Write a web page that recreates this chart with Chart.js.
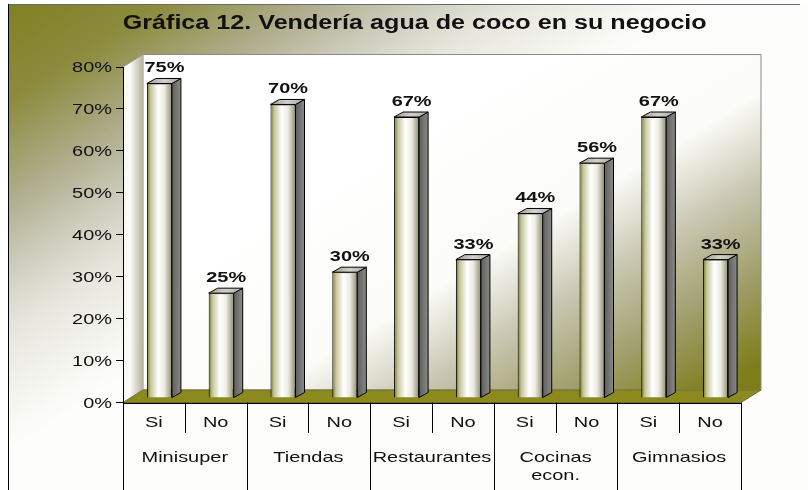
<!DOCTYPE html>
<html lang="es">
<head>
<meta charset="UTF-8">
<title>Gráfica 12. Vendería agua de coco en su negocio</title>
<script src="https://cdn.jsdelivr.net/npm/chart.js@4"></script>
<style>
  html, body { margin: 0; padding: 0; background: #fff; }
  #wrap { width: 808px; height: 490px; }
</style>
</head>
<body>
<div id="wrap"><canvas id="chart" width="808" height="490"></canvas></div>
<script>
// data
const titleText = 'Gráfica 12. Vendería agua de coco en su negocio';
const groups = [['Minisuper'], ['Tiendas'], ['Restaurantes'], ['Cocinas', 'econ.'], ['Gimnasios']];
const answers = ['Si', 'No'];
const siValues = [75, 70, 67, 44, 67];
const noValues = [25, 30, 33, 56, 33];
const yMax = 80;
const yStep = 10;

const labels = [];
const values = [];
groups.forEach((g, i) => {
  labels.push(answers[0]); values.push(siValues[i]);
  labels.push(answers[1]); values.push(noValues[i]);
});

// fake 3d depth
const WALL_DX = 20, WALL_DY = 12.5;
const SHIFT_X = 5.5, SHIFT_Y = 4.5;
const BAR_DX = 9, BAR_DY = 5;
const BAR_SHARE = 0.405;
const FONT = '"Liberation Sans", Arial, sans-serif';
const SX = 1.33; // the original picture is stretched sideways

function stretchText(ctx, text, x, y, font, align, sx) {
  sx = sx || SX;
  ctx.save();
  ctx.font = font;
  const w = ctx.measureText(text).width * sx;
  let left = x;
  if (align === 'center') left = x - w / 2;
  if (align === 'right') left = x - w;
  ctx.translate(left, y);
  ctx.scale(sx, 1);
  ctx.textAlign = 'left';
  ctx.textBaseline = 'alphabetic';
  ctx.fillStyle = '#111';
  ctx.fillText(text, 0, 0);
  ctx.restore();
}

function poly(ctx, pts, fill, stroke) {
  ctx.beginPath();
  ctx.moveTo(pts[0][0], pts[0][1]);
  for (let i = 1; i < pts.length; i++) ctx.lineTo(pts[i][0], pts[i][1]);
  ctx.closePath();
  if (fill) { ctx.fillStyle = fill; ctx.fill(); }
  if (stroke) { ctx.strokeStyle = stroke; ctx.lineWidth = 1; ctx.stroke(); }
}

function barFill(c) {
  if (c.type !== 'data') return '#ddd';
  const xs = c.chart.scales.x;
  if (!xs) return '#ddd';
  const cx = xs.getPixelForValue(c.dataIndex);
  const w = (xs.width / labels.length) * BAR_SHARE;
  if (!isFinite(cx) || !isFinite(w) || w <= 0) return '#ddd';
  const g = c.chart.ctx.createLinearGradient(cx - w / 2, 0, cx + w / 2, 0);
  g.addColorStop(0, '#77772a');
  g.addColorStop(0.15, '#c6c59c');
  g.addColorStop(0.45, '#ffffff');
  g.addColorStop(0.7, '#ecebe2');
  g.addColorStop(1, '#8e8d72');
  return g;
}

const depthPlugin = {
  id: 'depth',
  beforeDraw(chart) {
    const ctx = chart.ctx;
    const a = chart.chartArea;
    const L = a.left, R = a.right, T = a.top, B = a.bottom;
    ctx.save();
    // outer background
    const bg = ctx.createLinearGradient(8, 4, 213, 322);
    bg.addColorStop(0, '#808022');
    bg.addColorStop(0.22, '#8c8b3e');
    bg.addColorStop(0.44, '#b0ae8e');
    bg.addColorStop(0.6, '#cfcfc0');
    bg.addColorStop(0.73, '#e6e6dd');
    bg.addColorStop(0.89, '#f5f5f0');
    bg.addColorStop(1, '#fdfdfb');
    ctx.fillStyle = bg;
    ctx.fillRect(8, 4, 800, 486);

    // back wall
    const wall = ctx.createLinearGradient(450, 100, 650, 430);
    wall.addColorStop(0, '#ffffff');
    wall.addColorStop(0.4, '#fbfbf8');
    wall.addColorStop(0.6, '#c8c6b0');
    wall.addColorStop(0.8, '#a09e6a');
    wall.addColorStop(1, '#7e7d1c');
    poly(ctx, [[L + WALL_DX, T - WALL_DY], [R + WALL_DX, T - WALL_DY], [R + WALL_DX, B - WALL_DY], [L + WALL_DX, B - WALL_DY]], wall, '#8a8a8a');

    // side wall
    const side = ctx.createLinearGradient(L, 0, L + WALL_DX, 0);
    side.addColorStop(0, '#f6f6f2');
    side.addColorStop(0.35, '#fbfbf8');
    side.addColorStop(1, '#b4b29c');
    poly(ctx, [[L, T], [L + WALL_DX, T - WALL_DY], [L + WALL_DX, B - WALL_DY], [L, B]], side, null);
    ctx.strokeStyle = '#9a9a9a';
    ctx.beginPath();
    ctx.moveTo(L, T); ctx.lineTo(L + WALL_DX, T - WALL_DY);
    ctx.stroke();

    // floor
    poly(ctx, [[L, B], [L + WALL_DX, B - WALL_DY], [R + WALL_DX, B - WALL_DY], [R, B]], '#8c8a1e', '#6f6e30');
    ctx.restore();
  },
  beforeDatasetsDraw(chart) {
    chart.ctx.save();
    chart.ctx.translate(SHIFT_X, -SHIFT_Y);
  },
  afterDatasetsDraw(chart) {
    const ctx = chart.ctx;
    const meta = chart.getDatasetMeta(0);
    meta.data.forEach((el, i) => {
      const l = el.x - el.width / 2, r = el.x + el.width / 2;
      const t = el.y, b = el.base;
      const sg = ctx.createLinearGradient(r, 0, r + BAR_DX, 0);
      sg.addColorStop(0, '#5e5e5e');
      sg.addColorStop(1, '#8a8a86');
      poly(ctx, [[r, t], [r + BAR_DX, t - BAR_DY], [r + BAR_DX, b - BAR_DY], [r, b]], sg, '#000');
      const tg = ctx.createLinearGradient(l, 0, r + BAR_DX, 0);
      tg.addColorStop(0, '#9c9c90');
      tg.addColorStop(0.5, '#d2d2cc');
      tg.addColorStop(1, '#a8a8a2');
      poly(ctx, [[l, t], [l + BAR_DX, t - BAR_DY], [r + BAR_DX, t - BAR_DY], [r, t]], tg, '#000');
      stretchText(ctx, values[i] + '%', el.x + 5, t - 11, 'bold 15px ' + FONT, 'center');
    });
    ctx.restore();
  },
  afterDraw(chart) {
    const ctx = chart.ctx;
    const a = chart.chartArea;
    const xs = chart.scales.x, ys = chart.scales.y;
    const L = a.left, R = a.right, B = a.bottom;
    const catW = xs.width / labels.length;
    ctx.save();
    ctx.strokeStyle = '#000';
    ctx.lineWidth = 1;
    // front floor edge
    ctx.beginPath();
    ctx.moveTo(L, Math.round(B) + 0.5); ctx.lineTo(R, Math.round(B) + 0.5);
    ctx.stroke();
    // category separators
    for (let k = 0; k <= labels.length; k++) {
      const x = Math.round(xs.left + k * catW) + 0.5;
      ctx.beginPath();
      ctx.moveTo(x, B);
      ctx.lineTo(x, k % 2 === 0 ? 490 : 433);
      ctx.stroke();
    }
    // Si / No
    labels.forEach((lab, i) => {
      stretchText(ctx, lab, xs.getPixelForValue(i), 426.5, '15px ' + FONT, 'center');
    });
    // group names
    groups.forEach((lines, g) => {
      const cx = xs.left + (2 * g + 1) * catW;
      lines.forEach((line, j) => {
        stretchText(ctx, line, cx, 461.5 + j * 18, '15px ' + FONT, 'center');
      });
    });
    // y tick labels
    ys.ticks.forEach((tk, i) => {
      const y = ys.getPixelForTick(i);
      stretchText(ctx, tk.value + '%', ys.right - 11, y + 5.3, '15px ' + FONT, 'right');
    });
    // title
    ctx.font = 'bold 20px ' + FONT;
    const tw = ctx.measureText(titleText).width;
    stretchText(ctx, titleText, 414.7, 29.3, 'bold 20px ' + FONT, 'center', 584 / tw);
    // outer frame
    ctx.strokeStyle = '#6a6a6a';
    ctx.beginPath();
    ctx.moveTo(8, 4.5); ctx.lineTo(800, 4.5);
    ctx.stroke();
    ctx.strokeStyle = '#000';
    ctx.beginPath();
    ctx.moveTo(8.5, 4); ctx.lineTo(8.5, 490);
    ctx.stroke();
    ctx.restore();
  }
};

new Chart(document.getElementById('chart'), {
  type: 'bar',
  data: {
    labels: labels,
    datasets: [{
      data: values,
      backgroundColor: barFill,
      borderColor: '#000',
      borderWidth: 1,
      barPercentage: 0.9,
      categoryPercentage: 0.45
    }]
  },
  options: {
    responsive: false,
    animation: false,
    layout: { padding: { left: 0, top: 67, right: 67, bottom: 87.5 } },
    plugins: {
      legend: { display: false },
      tooltip: { enabled: false },
      title: { display: false }
    },
    scales: {
      x: {
        ticks: { display: false },
        grid: { display: false },
        border: { display: false },
        afterFit(s) { s.height = 0; }
      },
      y: {
        min: 0,
        max: yMax,
        ticks: { stepSize: yStep, display: false },
        grid: { drawOnChartArea: false, drawTicks: true, tickLength: 7, color: '#000' },
        border: { color: '#000' },
        afterFit(s) { s.width = 123; }
      }
    }
  },
  plugins: [depthPlugin]
});
</script>
</body>
</html>
